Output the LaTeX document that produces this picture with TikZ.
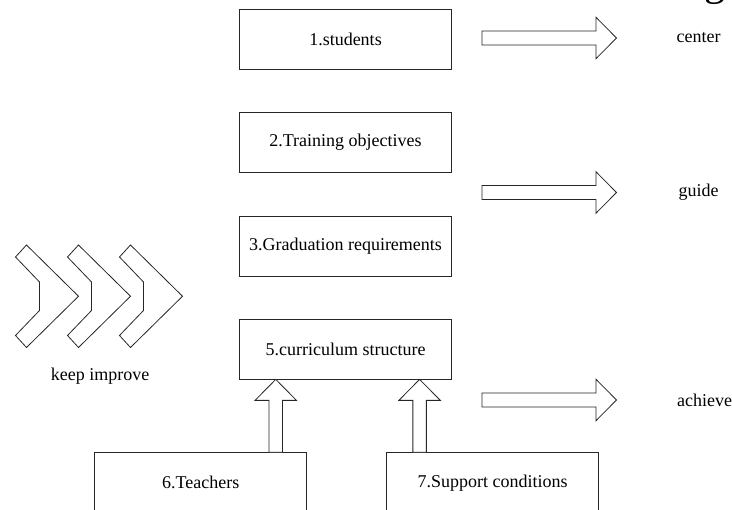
\documentclass[tikz,border=0pt]{standalone}
\usepackage{fontspec}
\setmainfont{Liberation Serif}
\usetikzlibrary{calc}
\begin{document}
\begin{tikzpicture}[x=1pt,y=-1pt,
  box/.style={draw=black!85,line width=0.8pt,minimum width=212pt,minimum height=60pt,inner sep=0pt,font=\fontsize{18}{20}\selectfont},
  lbl/.style={font=\fontsize{18}{20}\selectfont,inner sep=0pt},
  fat/.style={draw=black!85,line width=0.8pt,line join=miter,fill=white},
  chev/.style={draw=black!85,line width=0.8pt,line join=miter}]
\useasboundingbox (0,0) rectangle (732,510);
% boxes
\node[box] (b1) at (345.5,39.2) {1.students};
\node[box] (b2) at (345.5,142.5) {2.Training objectives};
\node[box] (b3) at (345.5,246) {3.Graduation requirements};
\node[box] (b5) at (345.5,349) {5.curriculum structure};
\node[box] (b6) at (200.8,482.7) {6.Teachers};
\node[box] (b7) at (492.7,482.7) {7.Support conditions};
% right labels
\node[lbl] (c1) at (698.5,38) {center};
\node[lbl] (c2) at (698.5,192.5) {guide};
\node[lbl] (c3) at (704.5,400) {achieve};
\node[lbl] (ki) at (100,376) {keep improve};
% cut-off large glyph at top right
\node[font=\fontsize{42}{42}\selectfont,inner sep=0pt,anchor=base] (gcut) at (714.5,-4) {g};
% right hollow arrows
\foreach \yy/\nm in {38/r1,192.5/r2,400/r3}{
  \coordinate (\nm) at (482,\yy);
  \draw[fat] ($(\nm)+(0,-7)$) -- ++(114,0) -- ++(0,-13.7) -- ++(20.5,20.7)
     -- ++(-20.5,20.7) -- ++(0,-13.7) -- ++(-114,0) -- cycle;
}
% up hollow arrows from boxes 6 and 7 to box 5
\coordinate (u1) at (275.75,0);
\coordinate (u2) at (419.6,0);
\foreach \nm/\src in {u1/b6,u2/b7}{
  \draw[fat] (b5.south -| \nm) -- ++(20.75,21) -- ++(-14,0)
     -- ($(\src.north -| \nm)+(6.75,0)$) -- ++(-13.5,0)
     -- ($(b5.south -| \nm)+(-6.75,21)$) -- ++(-14,0) -- cycle;
}
% chevrons
\foreach \dx in {0,52,104}{
  \draw[chev] (26.5+\dx,245) -- (78.5+\dx,296.25) -- (26.5+\dx,347.5) -- (15.5+\dx,335.5)
    -- (39.5+\dx,310.5) -- (39.5+\dx,282) -- (15.5+\dx,257) -- cycle;
}
\end{tikzpicture}
\end{document}
